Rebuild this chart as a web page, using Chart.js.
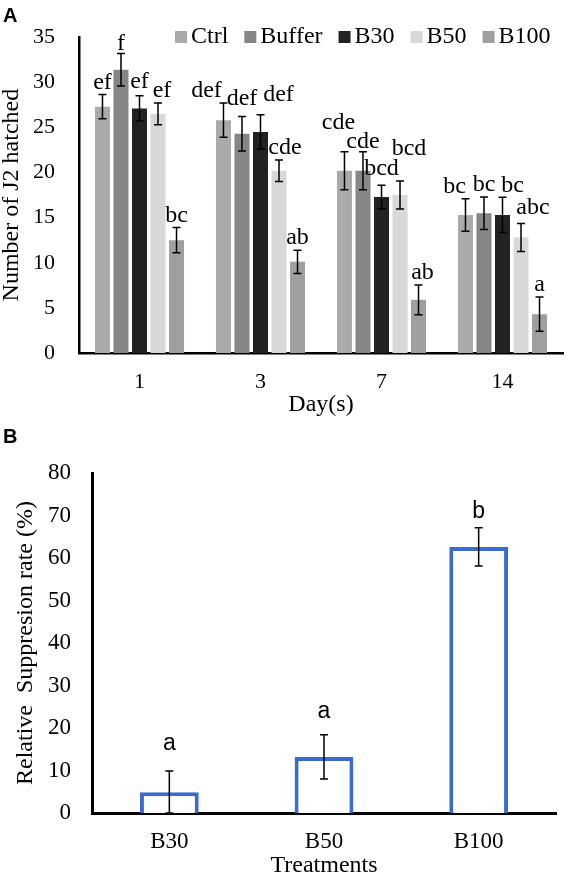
<!DOCTYPE html>
<html>
<head>
<meta charset="utf-8">
<script src="https://cdn.jsdelivr.net/npm/chart.js@4.4.0/dist/chart.umd.min.js"></script>
<style>
    html, body { margin: 0; padding: 0; background: #fff; overflow: hidden; }
    #wrap { position: relative; width: 566px; height: 878px; }
    #chartA { position: absolute; left: 0; top: 0; }
    #chartB { position: absolute; left: 0; top: 418px; }
</style>
</head>
<body>
<div id="wrap">
    <canvas id="chartA" width="566" height="418"></canvas>
    <canvas id="chartB" width="566" height="460"></canvas>
</div>
<script>
// Panel A - J2 hatched per day
const days = ['1', '3', '7', '14'];
const seriesNames = ['Ctrl', 'Buffer', 'B30', 'B50', 'B100'];

const ctrlMean = [27.3, 25.8, 20.2, 15.3];
const ctrlErr = [1.35, 1.9, 2.1, 1.8];
const ctrlLetters = ['ef', 'def', 'cde', 'bc'];

const bufferMean = [31.4, 24.3, 20.2, 15.5];
const bufferErr = [1.8, 1.9, 2.1, 1.8];
const bufferLetters = ['f', 'def', 'cde', 'bc'];

const b30Mean = [27.1, 24.5, 17.3, 15.3];
const b30Err = [1.4, 1.9, 1.3, 1.95];
const b30Letters = ['ef', 'def', 'bcd', 'bc'];

const b50Mean = [26.5, 20.2, 17.5, 12.8];
const b50Err = [1.2, 1.2, 1.55, 1.55];
const b50Letters = ['ef', 'cde', 'bcd', 'abc'];

const b100Mean = [12.5, 10.1, 5.9, 4.3];
const b100Err = [1.4, 1.3, 1.65, 1.9];
const b100Letters = ['bc', 'ab', 'ab', 'a'];

// Panel B - relative suppression
const treatments = ['B30', 'B50', 'B100'];
const suppression = [4.9, 13.2, 62.6];
const suppressionErr = [5.0, 5.2, 4.5];
const suppressionLetters = ['a', 'a', 'b'];

const serif = "'Liberation Serif', 'Times New Roman', serif";
const sans = "'Liberation Sans', Arial, sans-serif";

// error bars + significance letters, drawn from the bar elements and y scale
const errorBarPlugin = {
    id: 'errorBars',
    afterDatasetsDraw(chart, args, opts) {
        const ctx = chart.ctx;
        const yScale = chart.scales.y;
        ctx.save();
        chart.data.datasets.forEach((ds, di) => {
            const meta = chart.getDatasetMeta(di);
            meta.data.forEach((bar, i) => {
                const v = ds.data[i];
                const e = ds.errors[i];
                const top = yScale.getPixelForValue(v + e);
                const bot = yScale.getPixelForValue(Math.max(0, v - e));
                ctx.strokeStyle = '#000';
                ctx.lineWidth = opts.lineWidth;
                ctx.beginPath();
                ctx.moveTo(bar.x, top);
                ctx.lineTo(bar.x, bot);
                ctx.moveTo(bar.x - opts.cap, top);
                ctx.lineTo(bar.x + opts.cap, top);
                ctx.moveTo(bar.x - opts.cap, bot);
                ctx.lineTo(bar.x + opts.cap, bot);
                ctx.stroke();

                const nudge = (opts.nudges && opts.nudges[di]) ? opts.nudges[di][i] : [0, 0];
                ctx.fillStyle = '#000';
                ctx.font = opts.font;
                ctx.textAlign = 'center';
                ctx.textBaseline = opts.baseline;
                ctx.fillText(ds.letters[i], bar.x + nudge[0], top - opts.gap + nudge[1]);
            });
        });
        ctx.restore();
    }
};

const panelLetterPlugin = {
    id: 'panelLetter',
    afterDraw(chart, args, opts) {
        const ctx = chart.ctx;
        ctx.save();
        ctx.fillStyle = '#000';
        ctx.font = "bold 20px " + sans;
        ctx.textAlign = 'left';
        ctx.textBaseline = 'alphabetic';
        ctx.fillText(opts.text, opts.x, opts.y);
        ctx.restore();
    }
};

// legend sits inside the plot, top right
const insideLegendPlugin = {
    id: 'insideLegend',
    afterDraw(chart, args, opts) {
        const ctx = chart.ctx;
        ctx.save();
        ctx.font = opts.font;
        ctx.textBaseline = 'middle';
        ctx.textAlign = 'left';
        let x = opts.x;
        chart.data.datasets.forEach(ds => {
            ctx.fillStyle = ds.backgroundColor;
            ctx.fillRect(x, opts.y - 6, 12, 12);
            x += 12 + 4;
            ctx.fillStyle = '#000';
            ctx.fillText(ds.label, x, opts.y);
            x += ctx.measureText(ds.label).width + opts.spacing;
        });
        ctx.restore();
    }
};

const colorsA = ['#aaaaaa', '#868686', '#222222', '#d8d8d8', '#9f9f9f'];

new Chart(document.getElementById('chartA'), {
    type: 'bar',
    data: {
        labels: days,
        datasets: [
            { label: seriesNames[0], data: ctrlMean, errors: ctrlErr, letters: ctrlLetters, backgroundColor: colorsA[0] },
            { label: seriesNames[1], data: bufferMean, errors: bufferErr, letters: bufferLetters, backgroundColor: colorsA[1] },
            { label: seriesNames[2], data: b30Mean, errors: b30Err, letters: b30Letters, backgroundColor: colorsA[2] },
            { label: seriesNames[3], data: b50Mean, errors: b50Err, letters: b50Letters, backgroundColor: colorsA[3] },
            { label: seriesNames[4], data: b100Mean, errors: b100Err, letters: b100Letters, backgroundColor: colorsA[4] }
        ]
    },
    options: {
        responsive: false,
        animation: false,
        layout: { padding: { top: 26, right: 3, bottom: 1, left: 0 } },
        datasets: { bar: { categoryPercentage: 0.765, barPercentage: 0.81 } },
        plugins: {
            legend: { display: false },
            tooltip: { enabled: false },
            errorBars: {
                cap: 4, lineWidth: 1.5, gap: 12, baseline: 'middle',
                font: "24px " + serif,
                nudges: [
                    [[0, 0], [-17, 0], [-6, -17], [-11, 0]],
                    [[0, 2], [0, -6], [0, 2], [0, 0]],
                    [[0, -2], [18, -8], [0, -4], [10, 0]],
                    [[4, 0], [6, 0], [9, -20], [12, -4]],
                    [[0, 0], [0, 0], [4, 0], [0, 0]]
                ]
            },
            panelLetter: { text: 'A', x: 3, y: 22 },
            insideLegend: { x: 175, y: 37, spacing: 16, font: "24px " + serif }
        },
        scales: {
            x: {
                z: 1,
                grid: { display: false, drawTicks: false },
                border: { display: true, color: '#000', width: 2.5 },
                ticks: { color: '#000', font: { family: serif, size: 22 }, padding: 16 },
                title: { display: true, text: 'Day(s)', color: '#000', font: { family: serif, size: 24, lineHeight: 1 }, padding: 0 },
                afterFit(scale) { scale.height = 64; }
            },
            y: {
                min: 0,
                max: 35,
                grid: { display: false, drawTicks: false },
                border: { display: true, color: '#000', width: 2.5 },
                ticks: { stepSize: 5, color: '#000', font: { family: serif, size: 22 }, padding: 24 },
                title: { display: true, text: 'Number of J2 hatched', color: '#000', font: { family: serif, size: 24, lineHeight: 1 }, padding: 0 },
                afterFit(scale) { scale.width = 79; }
            }
        }
    },
    plugins: [errorBarPlugin, panelLetterPlugin, insideLegendPlugin]
});

new Chart(document.getElementById('chartB'), {
    type: 'bar',
    data: {
        labels: treatments,
        datasets: [{
            label: 'Relative suppression',
            data: suppression,
            errors: suppressionErr,
            letters: suppressionLetters,
            backgroundColor: '#ffffff',
            borderColor: '#3a6ccf',
            borderWidth: 4,
            categoryPercentage: 1,
            barPercentage: 0.38
        }]
    },
    options: {
        responsive: false,
        animation: false,
        layout: { padding: { top: 55, right: 10, bottom: 0, left: 0 } },
        plugins: {
            legend: { display: false },
            tooltip: { enabled: false },
            errorBars: {
                cap: 4, lineWidth: 1.5, gap: 16, baseline: 'alphabetic',
                font: "23px " + sans,
                nudges: [[[0, -5], [0, -1], [0, 6]]]
            },
            panelLetter: { text: 'B', x: 3, y: 25 }
        },
        scales: {
            x: {
                z: 1,
                grid: { display: false, drawTicks: false },
                border: { display: true, color: '#000', width: 3 },
                ticks: { color: '#000', font: { family: serif, size: 23 }, padding: 15 },
                title: { display: true, text: 'Treatments', color: '#000', font: { family: serif, size: 24, lineHeight: 1 }, padding: 0 },
                afterFit(scale) { scale.height = 65; }
            },
            y: {
                min: 0,
                max: 80,
                grid: { display: false, drawTicks: false },
                border: { display: true, color: '#000', width: 3 },
                ticks: { stepSize: 10, color: '#000', font: { family: serif, size: 23 }, padding: 21 },
                title: { display: true, text: 'Relative  Suppresion rate (%)', color: '#000', font: { family: serif, size: 24, lineHeight: 1 }, padding: { top: 14 } },
                afterFit(scale) { scale.width = 92; }
            }
        }
    },
    plugins: [errorBarPlugin, panelLetterPlugin]
});
</script>
</body>
</html>
